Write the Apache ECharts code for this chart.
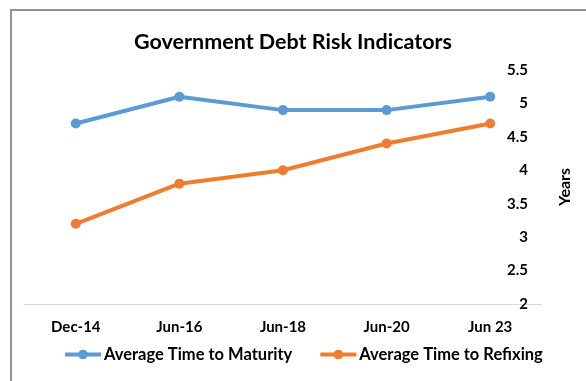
<!DOCTYPE html>
<html>
<head>
<meta charset="utf-8">
<script src="https://cdn.jsdelivr.net/npm/echarts@6/dist/echarts.min.js"></script>
<style>
  html, body { margin: 0; padding: 0; background: #fff; }
  #chart { width: 586px; height: 381px; }
</style>
</head>
<body>
<div id="chart"></div>
<script>
// Period labels along the bottom axis
const periods = ['Dec-14', 'Jun-16', 'Jun-18', 'Jun-20', 'Jun 23'];
// Average time to maturity, years
const timeToMaturity = [4.7, 5.1, 4.9, 4.9, 5.1];
// Average time to refixing, years
const timeToRefixing = [3.2, 3.8, 4.0, 4.4, 4.7];

const FONT = 'Lato, "Open Sans", sans-serif';
const chart = echarts.init(document.getElementById('chart'), null, { renderer: 'canvas' });

chart.setOption({
  animation: false,
  backgroundColor: '#ffffff',
  textStyle: { fontFamily: FONT },
  graphic: [{
    type: 'rect',
    shape: { x: 11, y: 10, width: 620, height: 420 },
    style: { fill: 'none', stroke: '#6e6e6e', lineWidth: 1.5 },
    silent: true
  }],
  title: {
    text: 'Government Debt Risk Indicators',
    left: 'center',
    top: 26,
    textStyle: { fontFamily: FONT, fontSize: 21.5, fontWeight: 'bold', color: '#000' }
  },
  legend: {
    bottom: 13,
    left: 58,
    itemWidth: 36,
    itemHeight: 12,
    itemGap: 26,
    lineStyle: { width: 4 },
    textStyle: { fontFamily: FONT, fontSize: 16.5, fontWeight: 'bold', color: '#000', padding: [0, 0, 0, -2] },
    data: ['Average Time to Maturity', 'Average Time to Refixing']
  },
  grid: { left: 24, right: 44, top: 70, bottom: 77 },
  xAxis: {
    type: 'category',
    data: periods,
    boundaryGap: true,
    axisLine: { lineStyle: { color: '#d9d9d9', width: 1 } },
    axisTick: { show: false },
    axisLabel: { margin: 16, fontFamily: FONT, fontSize: 15, fontWeight: 'bold', color: '#000' }
  },
  yAxis: {
    type: 'value',
    position: 'right',
    min: 2,
    max: 5.5,
    interval: 0.5,
    name: 'Years',
    nameLocation: 'middle',
    nameRotate: 90,
    nameGap: 15,
    nameTextStyle: { fontFamily: FONT, fontSize: 16, fontWeight: 'bold', color: '#000' },
    splitLine: { show: false },
    axisLine: { show: false },
    axisTick: { show: false },
    axisLabel: { inside: true, margin: 14, fontFamily: FONT, fontSize: 15, fontWeight: 'bold', color: '#000' }
  },
  series: [
    {
      name: 'Average Time to Maturity',
      type: 'line',
      data: timeToMaturity,
      symbol: 'circle',
      symbolSize: 10,
      lineStyle: { color: '#5b9bd5', width: 4 },
      itemStyle: { color: '#5b9bd5' }
    },
    {
      name: 'Average Time to Refixing',
      type: 'line',
      data: timeToRefixing,
      symbol: 'circle',
      symbolSize: 10,
      lineStyle: { color: '#ed7d31', width: 4 },
      itemStyle: { color: '#ed7d31' }
    }
  ]
});
</script>
</body>
</html>
